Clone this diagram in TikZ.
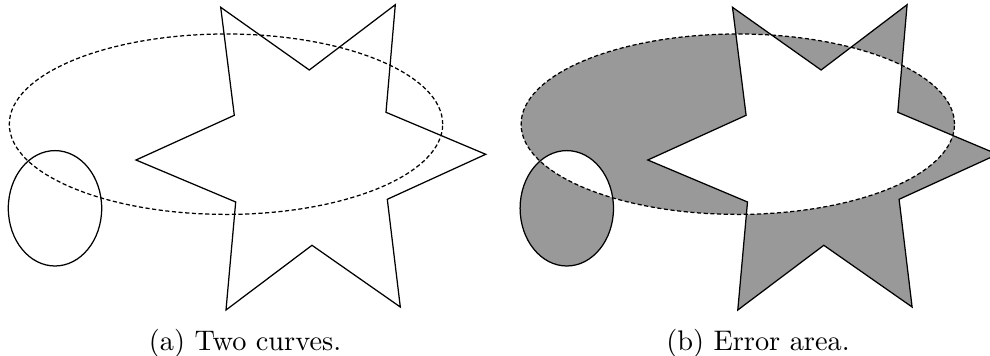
\documentclass[tikz,border=0pt]{standalone}
\usetikzlibrary{calc}
\newcommand\mystarpath{(220.7,7.3) -- (309.3,70) -- (395.3,4.7) -- (386,112.3) -- (485.7,154.3) -- (387.3,199.3) -- (400.3,307) -- (312,245.3) -- (226,310) -- (235.7,202) -- (136,160) -- (234.3,115.3) -- cycle}
\newcommand\mybigell{(226,124.2) ellipse [x radius=78.01pt, y radius=32.47pt]}
\newcommand\mysmallell{(55,208.3) ellipse [x radius=16.81pt, y radius=20.77pt]}
\tikzset{
  curve/.style={line width=0.45pt, line join=miter},
  dcurve/.style={curve, dash pattern=on 1.5pt off 0.9pt},
  errfill/.style={fill=black!40, even odd rule},
  captext/.style={anchor=base, inner sep=0pt, font=\fontsize{10.2pt}{12pt}\selectfont}
}
\begin{document}
\begin{tikzpicture}[x=0.36pt, y=-0.36pt]
\useasboundingbox (0,0) rectangle (990,356);
\clip (0,0) rectangle (990,356);
% left panel
\draw[curve] \mystarpath;
\draw[curve] \mysmallell;
\draw[dcurve] \mybigell;
\node[captext] (capa) at (245,350) {(a) Two curves.};
% right panel
\begin{scope}[shift={(511.8,0)}]
\fill[errfill] \mystarpath \mybigell \mysmallell;
\draw[curve] \mystarpath;
\draw[curve] \mysmallell;
\draw[dcurve] \mybigell;
\end{scope}
\node[captext] (capb) at (758,350) {(b) Error area.};
\end{tikzpicture}
\end{document}
